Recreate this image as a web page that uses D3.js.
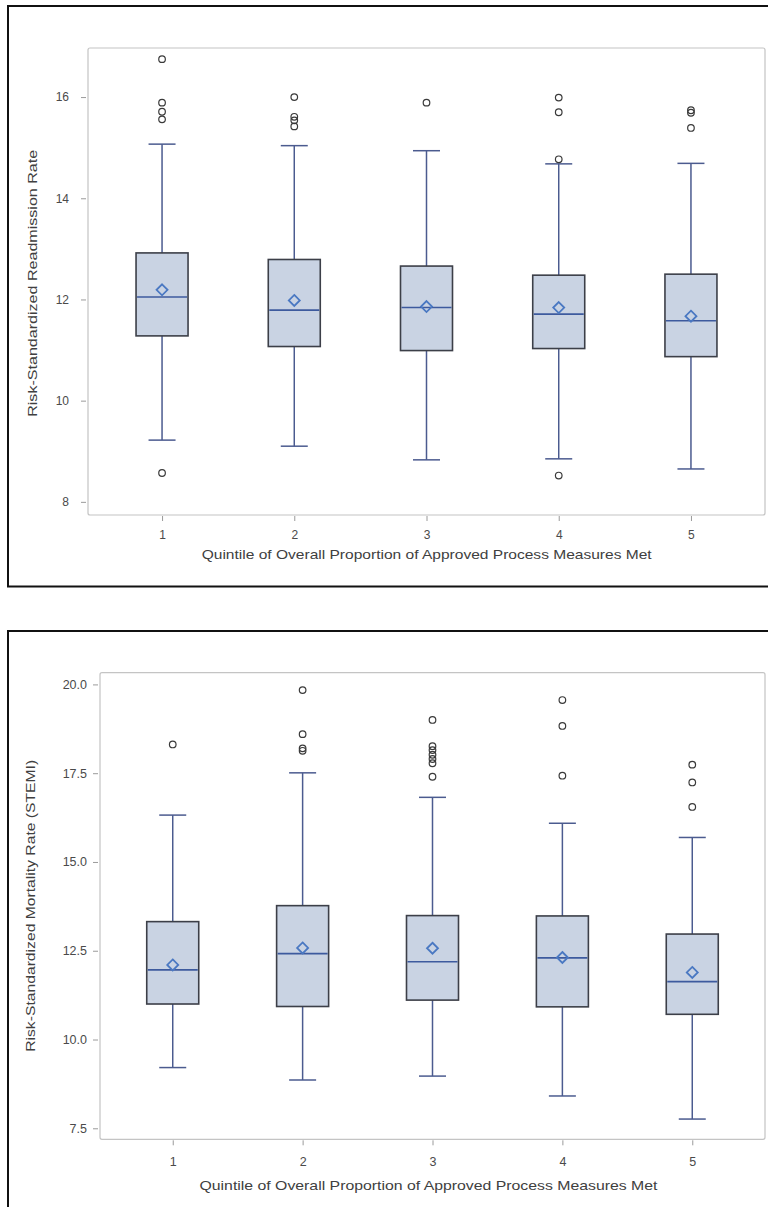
<!DOCTYPE html>
<html>
<head>
<meta charset="utf-8">
<script src="https://cdn.jsdelivr.net/npm/d3@7"></script>
<style>
  html, body { margin: 0; padding: 0; background: #fff; }
  svg { display: block; }
  text { font-family: "Liberation Sans", Arial, sans-serif; }
</style>
</head>
<body>
<svg id="chart" width="768" height="1207"></svg>
<script>
// Quintile categories shared by both panels
const quintiles = ["1", "2", "3", "4", "5"];

// Panel A: risk-standardized readmission rate
const readmitLowWhisker = [9.22, 9.10, 8.83, 8.85, 8.65];
const readmitQ1 = [11.28, 11.07, 10.99, 11.03, 10.87];
const readmitMedian = [12.05, 11.79, 11.84, 11.71, 11.58];
const readmitMean = [12.19, 11.98, 11.86, 11.84, 11.67];
const readmitQ3 = [12.92, 12.79, 12.66, 12.48, 12.50];
const readmitHighWhisker = [15.07, 15.04, 14.94, 14.68, 14.69];
const readmitOutliers = [
  [16.75, 15.89, 15.71, 15.56, 8.57],
  [16.00, 15.61, 15.54, 15.42],
  [15.89],
  [15.99, 15.70, 14.77, 8.52],
  [15.74, 15.69, 15.39]
];
const readmitTicks = [8, 10, 12, 14, 16];

// Panel B: risk-standardized mortality rate (STEMI)
const mortLowWhisker = [9.21, 8.86, 8.97, 8.41, 7.76];
const mortQ1 = [11.00, 10.93, 11.11, 10.92, 10.71];
const mortMedian = [11.96, 12.42, 12.19, 12.30, 11.63];
const mortMean = [12.10, 12.58, 12.57, 12.31, 11.89];
const mortQ3 = [13.32, 13.77, 13.49, 13.48, 12.97];
const mortHighWhisker = [16.32, 17.51, 16.82, 16.09, 15.69];
const mortOutliers = [
  [18.31],
  [19.84, 18.60, 18.20, 18.13],
  [19.00, 18.26, 18.15, 18.02, 17.90, 17.78, 17.40],
  [19.56, 18.83, 17.43],
  [17.74, 17.24, 16.55]
];
const mortTicks = [7.5, 10.0, 12.5, 15.0, 17.5, 20.0];

const xTitle = "Quintile of Overall Proportion of Approved Process Measures Met";

const svg = d3.select("#chart");

function panel(cfg) {
  const g = svg.append("g");

  // outer frame of the panel
  g.append("rect")
    .attr("x", cfg.frame[0]).attr("y", cfg.frame[1])
    .attr("width", cfg.frame[2]).attr("height", cfg.frame[3])
    .attr("fill", "none").attr("stroke", "#111").attr("stroke-width", 2);

  const [x0, y0, x1, y1] = cfg.plot;
  const x = d3.scalePoint().domain(quintiles).range([x0, x1]).padding(0.56);
  const y = d3.scaleLinear().domain(cfg.yDomain).range([y1, y0]);

  // plot-area wall
  g.append("rect")
    .attr("x", x0).attr("y", y0).attr("width", x1 - x0).attr("height", y1 - y0)
    .attr("rx", 2)
    .attr("fill", "#fff").attr("stroke", "#c4c4c4").attr("stroke-width", 1.2);

  // y axis
  const ya = g.append("g").attr("transform", `translate(${x0 - 2},0)`)
    .call(d3.axisLeft(y).tickValues(cfg.ticks).tickSize(5)
      .tickPadding(cfg.yPad).tickFormat(cfg.fmt));
  ya.select(".domain").remove();
  ya.selectAll(".tick line").attr("stroke", "#9a9a9a");
  ya.selectAll(".tick text").attr("fill", "#4a4a4a")
    .style("font-size", cfg.tickFont).style("font-family", "'Liberation Sans', Arial, sans-serif");

  // x axis
  const xa = g.append("g").attr("transform", `translate(0,${y1 + 1})`)
    .call(d3.axisBottom(x).tickSize(5).tickPadding(cfg.xPad));
  xa.select(".domain").remove();
  xa.selectAll(".tick line").attr("stroke", "#9a9a9a");
  xa.selectAll(".tick text").attr("fill", "#4a4a4a")
    .style("font-size", cfg.tickFont).style("font-family", "'Liberation Sans', Arial, sans-serif");

  // axis titles
  g.append("text")
    .attr("x", cfg.xTitlePos[0]).attr("y", cfg.xTitlePos[1])
    .attr("text-anchor", "middle")
    .attr("textLength", cfg.xTitleLen).attr("lengthAdjust", "spacingAndGlyphs")
    .attr("fill", "#404040").style("font-size", "13px")
    .text(xTitle);
  g.append("text")
    .attr("transform", `translate(${cfg.yTitlePos[0]},${cfg.yTitlePos[1]}) rotate(-90)`)
    .attr("text-anchor", "middle")
    .attr("textLength", cfg.yTitleLen).attr("lengthAdjust", "spacingAndGlyphs")
    .attr("fill", "#404040").style("font-size", "13px")
    .text(cfg.yTitle);

  const boxW = 52, capW = 27;
  const rows = quintiles.map((q, i) => ({
    q, lo: cfg.lo[i], q1: cfg.q1[i], med: cfg.med[i], mean: cfg.mean[i],
    q3: cfg.q3[i], hi: cfg.hi[i], out: cfg.out[i]
  }));

  const box = g.selectAll(".box").data(rows).join("g").attr("class", "box");
  const whisk = "#4b5b8f";

  // whisker stems
  box.append("line")
    .attr("x1", d => x(d.q)).attr("x2", d => x(d.q))
    .attr("y1", d => y(d.hi)).attr("y2", d => y(d.q3))
    .attr("stroke", whisk).attr("stroke-width", 1.5);
  box.append("line")
    .attr("x1", d => x(d.q)).attr("x2", d => x(d.q))
    .attr("y1", d => y(d.q1)).attr("y2", d => y(d.lo))
    .attr("stroke", whisk).attr("stroke-width", 1.5);
  // whisker caps
  box.append("line")
    .attr("x1", d => x(d.q) - capW / 2).attr("x2", d => x(d.q) + capW / 2)
    .attr("y1", d => y(d.hi)).attr("y2", d => y(d.hi))
    .attr("stroke", whisk).attr("stroke-width", 1.5);
  box.append("line")
    .attr("x1", d => x(d.q) - capW / 2).attr("x2", d => x(d.q) + capW / 2)
    .attr("y1", d => y(d.lo)).attr("y2", d => y(d.lo))
    .attr("stroke", whisk).attr("stroke-width", 1.5);

  // interquartile box
  box.append("rect")
    .attr("x", d => x(d.q) - boxW / 2).attr("width", boxW)
    .attr("y", d => y(d.q3)).attr("height", d => y(d.q1) - y(d.q3))
    .attr("fill", "#c9d3e3").attr("stroke", "#3c3f48").attr("stroke-width", 1.6);

  // median
  box.append("line")
    .attr("x1", d => x(d.q) - boxW / 2 + 1).attr("x2", d => x(d.q) + boxW / 2 - 1)
    .attr("y1", d => y(d.med)).attr("y2", d => y(d.med))
    .attr("stroke", "#3d5a9e").attr("stroke-width", 1.6);

  // mean diamond
  const dm = 5.5;
  box.append("path")
    .attr("d", d => {
      const cx = x(d.q), cy = y(d.mean);
      return `M${cx},${cy - dm}L${cx + dm},${cy}L${cx},${cy + dm}L${cx - dm},${cy}Z`;
    })
    .attr("fill", "none").attr("stroke", "#4a78c2").attr("stroke-width", 1.8);

  // outliers
  box.selectAll("circle").data(d => d.out.map(v => ({ q: d.q, v })))
    .join("circle")
    .attr("cx", d => x(d.q)).attr("cy", d => y(d.v)).attr("r", 3.3)
    .attr("fill", "none").attr("stroke", "#3a3a3a").attr("stroke-width", 1.2);
}

panel({
  frame: [8, 6, 770, 580.5],
  plot: [88, 48, 765, 515],
  yDomain: [7.74, 16.97],
  ticks: readmitTicks,
  fmt: d3.format("d"),
  tickFont: "12px",
  yPad: 12, xPad: 9,
  xTitlePos: [426.7, 559], xTitleLen: 450,
  yTitlePos: [37, 283.3], yTitleLen: 267,
  yTitle: "Risk-Standardized Readmission Rate",
  lo: readmitLowWhisker, q1: readmitQ1, med: readmitMedian, mean: readmitMean,
  q3: readmitQ3, hi: readmitHighWhisker, out: readmitOutliers
});

panel({
  frame: [8, 631, 770, 600],
  plot: [100, 672.7, 765, 1139.3],
  yDomain: [7.19, 20.33],
  ticks: mortTicks,
  fmt: d3.format(".1f"),
  tickFont: "12.5px",
  yPad: 6, xPad: 12,
  xTitlePos: [428.5, 1190], xTitleLen: 458,
  yTitlePos: [35, 905.8], yTitleLen: 292,
  yTitle: "Risk-Standardized Mortality Rate (STEMI)",
  lo: mortLowWhisker, q1: mortQ1, med: mortMedian, mean: mortMean,
  q3: mortQ3, hi: mortHighWhisker, out: mortOutliers
});
</script>
</body>
</html>
